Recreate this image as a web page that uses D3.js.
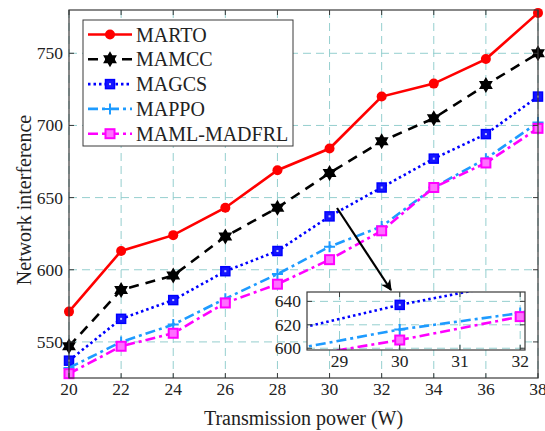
<!DOCTYPE html>
<html>
<head>
<meta charset="UTF-8">
<title>Network interference</title>
<script src="https://cdn.jsdelivr.net/npm/d3@7"></script>
<style>
  body { margin: 0; background: #fff; }
  .grid line { stroke: #95cfcf; stroke-width: 1; stroke-dasharray: 8,5; }
</style>
</head>
<body>
<svg id="chart" width="545" height="431"></svg>
<script>
// data
const power = [20, 22, 24, 26, 28, 30, 32, 34, 36, 38];
const marto  = [571, 613, 624, 643, 669, 684, 720, 729, 746, 778];
const mamcc  = [547, 586, 596, 623, 643, 667, 689, 705, 728, 750];
const magcs  = [537, 566, 579, 599, 613, 637, 657, 677, 694, 720];
const mappo  = [532, 550, 562, 580, 597, 616, 630, 657, 677, 702];
const mamlMadfrl = [528, 547, 556, 577, 590, 607, 627, 657, 674, 698];
const xTicks = [20, 22, 24, 26, 28, 30, 32, 34, 36, 38];
const yTicks = [550, 600, 650, 700, 750];
const insetXTicks = [29, 30, 31, 32];
const insetYTicks = [600, 620, 640];

const series = [
  { name: "MARTO", values: marto, color: "#ff0000", dash: null, marker: "circle" },
  { name: "MAMCC", values: mamcc, color: "#000000", dash: "10,7", marker: "hexagram" },
  { name: "MAGCS", values: magcs, color: "#0000ff", dash: "2.5,3", marker: "square" },
  { name: "MAPPO", values: mappo, color: "#1e9bff", dash: "10,4,3,4", marker: "plus" },
  { name: "MAML-MADFRL", values: mamlMadfrl, color: "#ff00ff", dash: "10,4,3,4", marker: "square2" }
];

const serif = "'Liberation Serif', 'Times New Roman', 'DejaVu Serif', serif";
const svg = d3.select("#chart").attr("font-family", serif);
const m = { left: 69, right: 538, top: 10, bottom: 378 };
const lw = 2.6;

const x = d3.scaleLinear().domain([20, 38]).range([m.left, m.right]);
const y = d3.scaleLinear().domain([525, 780]).range([m.bottom, m.top]);

// six pointed star
function hexagram(R) {
  const r = R / Math.sqrt(3);
  const pts = [];
  for (let i = 0; i < 12; i++) {
    const a = -Math.PI / 2 + i * Math.PI / 6;
    const rr = i % 2 === 0 ? R : r;
    pts.push([rr * Math.cos(a), rr * Math.sin(a)]);
  }
  return "M" + pts.map(p => p.join(",")).join("L") + "Z";
}

function drawMarker(g, s, cx, cy) {
  const mk = g.append("g").attr("transform", `translate(${cx},${cy})`);
  if (s.marker === "circle") {
    mk.append("circle").attr("r", 5).attr("fill", s.color);
  } else if (s.marker === "hexagram") {
    mk.append("path").attr("d", hexagram(8)).attr("fill", s.color);
  } else if (s.marker === "square") {
    mk.append("rect").attr("x", -4.5).attr("y", -4.5).attr("width", 9).attr("height", 9)
      .attr("fill", "#1515ff").attr("stroke", s.color).attr("stroke-width", 1.5);
    mk.append("rect").attr("x", -1).attr("y", -1).attr("width", 2).attr("height", 2).attr("fill", "#c8c8ff");
  } else if (s.marker === "square2") {
    mk.append("rect").attr("x", -4.5).attr("y", -4.5).attr("width", 9).attr("height", 9)
      .attr("fill", "#ff70ff").attr("stroke", s.color).attr("stroke-width", 2);
  } else if (s.marker === "plus") {
    mk.append("path").attr("d", "M-5.5,0H5.5M0,-5.5V5.5").attr("stroke", s.color).attr("stroke-width", 2);
  }
}

function drawGrid(g, xs, ys, xt, yt, x0, x1, y0, y1) {
  const grid = g.append("g").attr("class", "grid");
  grid.selectAll(".gx").data(xt).join("line")
    .attr("x1", d => xs(d)).attr("x2", d => xs(d)).attr("y1", y0).attr("y2", y1);
  grid.selectAll(".gy").data(yt).join("line")
    .attr("y1", d => ys(d)).attr("y2", d => ys(d)).attr("x1", x0).attr("x2", x1);
}

function drawBox(g, xs, ys, xt, yt, x0, x1, y0, y1, fs) {
  const axisColor = "#3a3a3a";
  const tl = 5;
  const t = g.append("g").attr("stroke", axisColor).attr("stroke-width", 1);
  xt.forEach(d => {
    t.append("line").attr("x1", xs(d)).attr("x2", xs(d)).attr("y1", y1).attr("y2", y1 - tl);
    t.append("line").attr("x1", xs(d)).attr("x2", xs(d)).attr("y1", y0).attr("y2", y0 + tl);
  });
  yt.forEach(d => {
    t.append("line").attr("y1", ys(d)).attr("y2", ys(d)).attr("x1", x0).attr("x2", x0 + tl);
    t.append("line").attr("y1", ys(d)).attr("y2", ys(d)).attr("x1", x1).attr("x2", x1 - tl);
  });
  g.append("rect").attr("x", x0).attr("y", y0).attr("width", x1 - x0).attr("height", y1 - y0)
    .attr("fill", "none").attr("stroke", axisColor).attr("stroke-width", 1.2);
  g.selectAll(null).data(xt).join("text")
    .attr("x", d => xs(d)).attr("y", y1 + 17).attr("text-anchor", "middle")
    .attr("fill", "#222").attr("font-size", fs).text(d => d);
  g.selectAll(null).data(yt).join("text")
    .attr("x", x0 - 6).attr("y", d => ys(d) + 6).attr("text-anchor", "end")
    .attr("fill", "#222").attr("font-size", fs).text(d => d);
}

// main plot
drawGrid(svg, x, y, xTicks, yTicks, m.left, m.right, m.top, m.bottom);

const plot = svg.append("g");
series.forEach(s => {
  const line = d3.line().x((d, i) => x(power[i])).y(d => y(d));
  plot.append("path").datum(s.values).attr("d", line)
    .attr("fill", "none").attr("stroke", s.color).attr("stroke-width", lw)
    .attr("stroke-dasharray", s.dash);
  s.values.forEach((v, i) => drawMarker(plot, s, x(power[i]), y(v)));
});

drawBox(svg, x, y, xTicks, yTicks, m.left, m.right, m.top, m.bottom, 17.5);

// axis titles
svg.append("text").attr("x", (m.left + m.right) / 2).attr("y", 425)
  .attr("text-anchor", "middle").attr("font-size", 20).attr("fill", "#222").text("Transmission power (W)");
svg.append("text").attr("transform", `translate(31,${(m.top + m.bottom) / 2 + 6}) rotate(-90)`)
  .attr("text-anchor", "middle").attr("font-size", 20).attr("fill", "#222").text("Network interference");

// arrow to the inset
svg.append("defs").append("marker").attr("id", "head")
  .attr("viewBox", "0 0 10 10").attr("refX", 9).attr("refY", 5)
  .attr("markerWidth", 5).attr("markerHeight", 5).attr("orient", "auto")
  .append("path").attr("d", "M0,0L10,5L0,10L3,5Z").attr("fill", "#000");
svg.append("line").attr("x1", 337).attr("y1", 208).attr("x2", 391).attr("y2", 290)
  .attr("stroke", "#000").attr("stroke-width", 2.2).attr("marker-end", "url(#head)");

// inset
const ib = { left: 307, right: 525, top: 292, bottom: 350 };
const xi = d3.scaleLinear().domain([28.46, 32.08]).range([ib.left, ib.right]);
const yi = d3.scaleLinear().domain([598.5, 648]).range([ib.bottom, ib.top]);
const inset = svg.append("g");
inset.append("rect").attr("x", ib.left).attr("y", ib.top)
  .attr("width", ib.right - ib.left).attr("height", ib.bottom - ib.top).attr("fill", "#fff");
svg.append("defs").append("clipPath").attr("id", "insetClip")
  .append("rect").attr("x", ib.left).attr("y", ib.top)
  .attr("width", ib.right - ib.left).attr("height", ib.bottom - ib.top);
drawGrid(inset, xi, yi, insetXTicks, insetYTicks, ib.left, ib.right, ib.top, ib.bottom);
const ip = inset.append("g").attr("clip-path", "url(#insetClip)");
series.forEach(s => {
  const line = d3.line().x((d, i) => xi(power[i])).y(d => yi(d));
  ip.append("path").datum(s.values).attr("d", line)
    .attr("fill", "none").attr("stroke", s.color).attr("stroke-width", lw)
    .attr("stroke-dasharray", s.dash);
  s.values.forEach((v, i) => drawMarker(ip, s, xi(power[i]), yi(v)));
});
drawBox(inset, xi, yi, insetXTicks, insetYTicks, ib.left, ib.right, ib.top, ib.bottom, 17.5);

// legend
const lg = svg.append("g");
lg.append("rect").attr("x", 83).attr("y", 20).attr("width", 210).attr("height", 126)
  .attr("fill", "#fff").attr("stroke", "#3a3a3a").attr("stroke-width", 1);
series.forEach((s, i) => {
  const ly = 34.5 + i * 24.8;
  lg.append("line").attr("x1", 88).attr("x2", 132).attr("y1", ly).attr("y2", ly)
    .attr("stroke", s.color).attr("stroke-width", lw).attr("stroke-dasharray", s.dash);
  drawMarker(lg, s, 110, ly);
  lg.append("text").attr("x", 136).attr("y", ly + 7).attr("font-size", 20).attr("fill", "#222").text(s.name);
});
</script>
</body>
</html>
